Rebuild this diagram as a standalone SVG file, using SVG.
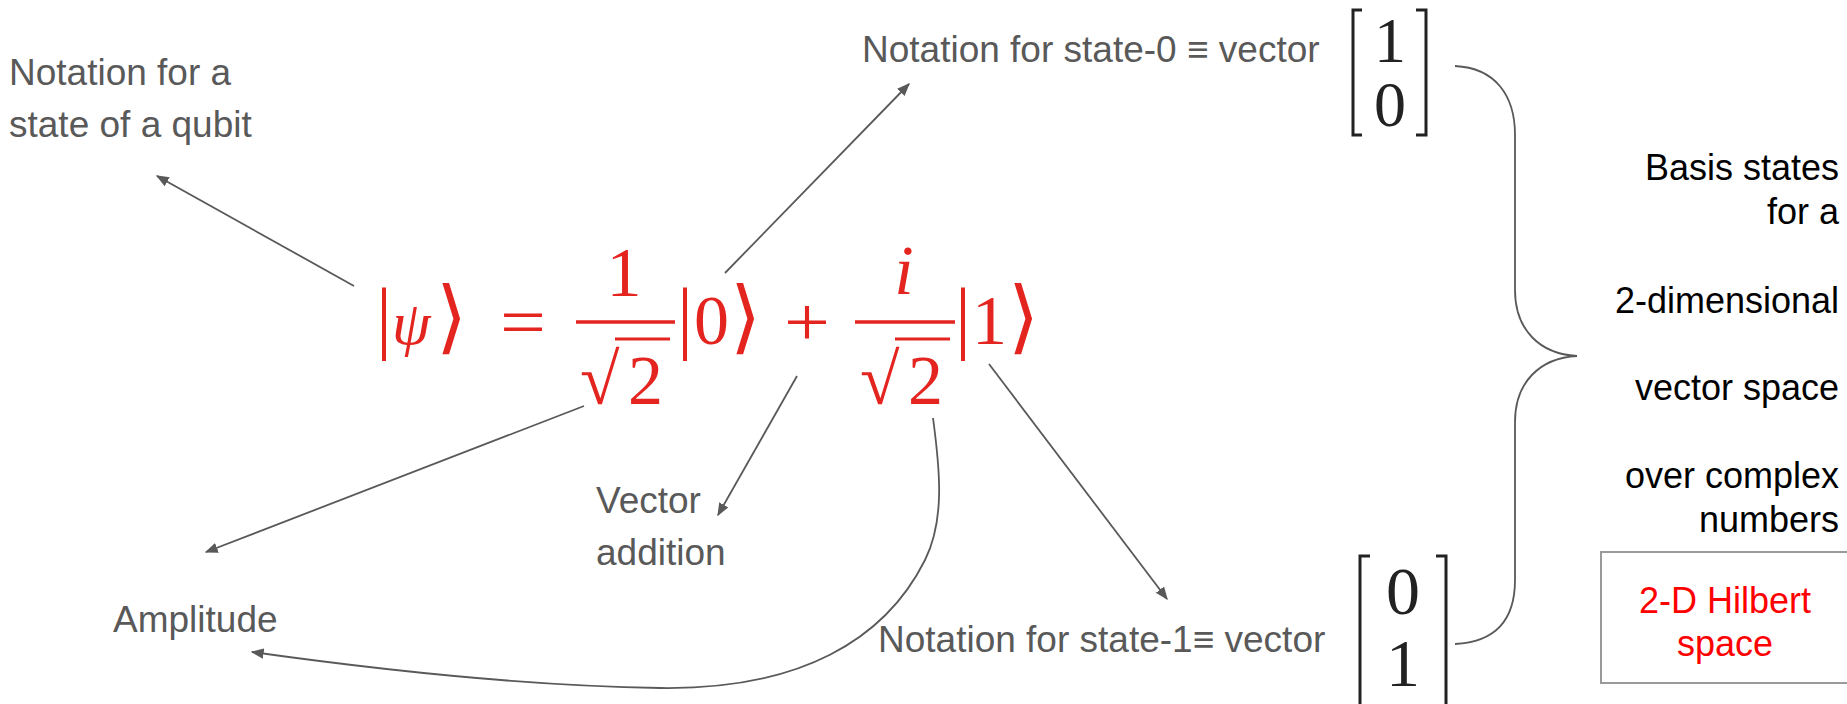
<svg xmlns="http://www.w3.org/2000/svg" width="1847" height="704" viewBox="0 0 1847 704">
<style>
.lbl{font-family:"Liberation Sans",Arial,sans-serif;font-size:37px;fill:#595959}
.blk{font-family:"Liberation Sans",Arial,sans-serif;font-size:36px;fill:#000;text-anchor:end}
.red{font-family:"Liberation Sans",Arial,sans-serif;font-size:36px;fill:#ff0000;text-anchor:middle}
.m{font-family:"Liberation Serif","Times New Roman",serif;font-size:70px;fill:#e3241f}
.mi{font-style:italic}
.bar{font-size:80px}
.ang{font-family:"DejaVu Sans",sans-serif;font-size:80px}
.rad{font-size:72px}
.mx{font-family:"Liberation Serif","Times New Roman",serif;font-size:64px;fill:#222;text-anchor:middle}
.rule{stroke:#e3241f;stroke-width:3.5;fill:none}
.br{stroke:#222;stroke-width:3;fill:none}
.con{stroke:#595959;stroke-width:1.8;fill:none}
</style>
<defs>
<marker id="ah" viewBox="0 0 10 10" refX="9" refY="5" markerWidth="13" markerHeight="13" markerUnits="userSpaceOnUse" orient="auto">
<path d="M0,1 L10,5 L0,9 z" fill="#595959"/>
</marker>
</defs>
<rect width="1847" height="704" fill="#fff"/>

<g id="state-label">
<text class="lbl" x="9" y="85">Notation for a</text>
<text class="lbl" x="9" y="137">state of a qubit</text>
</g>

<g id="formula">
<text class="m" y="344"><tspan class="bar" x="376">|</tspan><tspan class="mi" x="392" style="font-size:62px">ψ</tspan><tspan class="ang" x="436">⟩</tspan></text>
<text class="m" x="500" y="346" textLength="46" lengthAdjust="spacingAndGlyphs">=</text>
<text class="m" x="624" y="296" text-anchor="middle">1</text>
<line class="rule" x1="576" y1="322" x2="675" y2="322"/>
<text class="m" y="404"><tspan class="rad" x="580">√</tspan><tspan x="628">2</tspan></text>
<line class="rule" x1="615" y1="339" x2="670" y2="339" style="stroke-width:3"/>
<text class="m" y="344"><tspan class="bar" x="677">|</tspan><tspan x="694">0</tspan><tspan class="ang" x="730">⟩</tspan></text>
<text class="m" x="784" y="346" textLength="46" lengthAdjust="spacingAndGlyphs">+</text>
<text class="m mi" x="904" y="294" text-anchor="middle">i</text>
<line class="rule" x1="855" y1="322" x2="955" y2="322"/>
<text class="m" y="404"><tspan class="rad" x="860">√</tspan><tspan x="908">2</tspan></text>
<line class="rule" x1="895" y1="339" x2="950" y2="339" style="stroke-width:3"/>
<text class="m" y="344"><tspan class="bar" x="955">|</tspan><tspan x="972">1</tspan><tspan class="ang" x="1008">⟩</tspan></text>
</g>

<g id="state0">
<text class="lbl" x="862" y="62">Notation for state-0 ≡ vector</text>
</g>
<g id="matrix0">
<path class="br" d="M1362,10 H1353 V135 H1362 M1416,10 H1426 V135 H1416"/>
<text class="mx" x="1390" y="62">1</text>
<text class="mx" x="1390" y="126">0</text>
</g>

<g id="state1">
<text class="lbl" x="878" y="652">Notation for state-1≡ vector</text>
</g>
<g id="matrix1">
<path class="br" d="M1370,556 H1360 V712 M1436,556 H1446 V712"/>
<text class="mx" x="1403" y="614" style="font-size:68px">0</text>
<text class="mx" x="1403" y="686" style="font-size:68px">1</text>
</g>

<g id="vector-addition">
<text class="lbl" x="596" y="513">Vector</text>
<text class="lbl" x="596" y="565">addition</text>
</g>

<g id="amplitude">
<text class="lbl" x="113" y="632">Amplitude</text>
</g>

<g id="basis">
<text class="blk" x="1839" y="180">Basis states</text>
<text class="blk" x="1839" y="224">for a</text>
<text class="blk" x="1839" y="313">2-dimensional</text>
<text class="blk" x="1839" y="400">vector space</text>
<text class="blk" x="1839" y="488">over complex</text>
<text class="blk" x="1839" y="532">numbers</text>
</g>

<g id="hilbert">
<rect x="1601" y="552" width="270" height="131" fill="none" stroke="#9a9a9a" stroke-width="2"/>
<text class="red" x="1725" y="613">2-D Hilbert</text>
<text class="red" x="1725" y="656">space</text>
</g>

<g id="connectors">
<line class="con" x1="354" y1="286" x2="157" y2="176" marker-end="url(#ah)"/>
<line class="con" x1="725" y1="273" x2="909" y2="84" marker-end="url(#ah)"/>
<line class="con" x1="797" y1="376" x2="718" y2="515" marker-end="url(#ah)"/>
<line class="con" x1="584" y1="406" x2="206" y2="552" marker-end="url(#ah)"/>
<line class="con" x1="989" y1="364" x2="1167" y2="599" marker-end="url(#ah)"/>
<path class="con" d="M933,418 C940,470 945,520 925,560 C885,640 800,690 660,688 C530,686 380,670 252,652" marker-end="url(#ah)"/>
<path class="con" d="M1455,66 C1495,68 1515,95 1515,135 L1515,290 C1515,330 1540,354 1577,356 C1540,358 1515,382 1515,422 L1515,580 C1515,620 1495,642 1455,644"/>
</g>
</svg>
